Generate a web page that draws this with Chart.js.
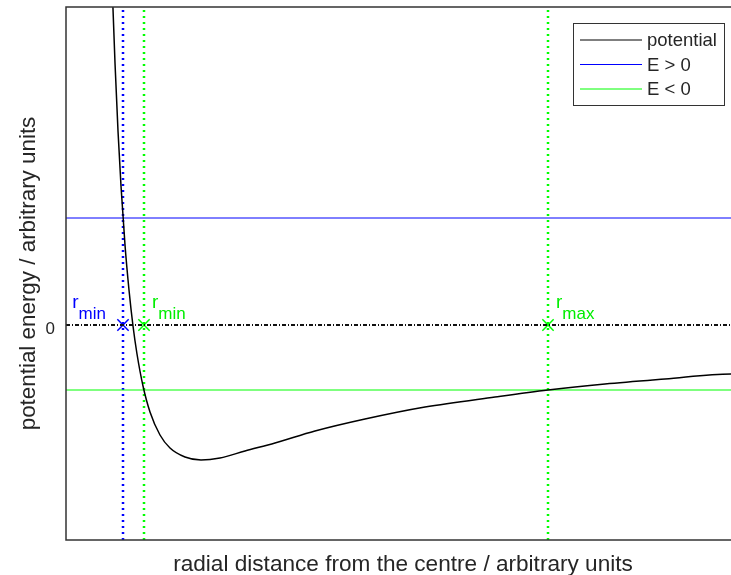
<!DOCTYPE html>
<html>
<head>
<meta charset="utf-8">
<script src="https://cdn.jsdelivr.net/npm/chart.js@4"></script>
<style>
  html, body { margin: 0; padding: 0; background: #fff; overflow: hidden; }
</style>
</head>
<body>
<canvas id="chart" width="745" height="575"></canvas>
<script>
// radial distance and effective potential
const radius = [0.46, 0.48, 0.50, 0.53, 0.56, 0.60, 0.64, 0.68, 0.72, 0.78, 0.85, 0.95, 1.05, 1.20,
  1.36, 1.55, 1.80, 2.10, 2.50, 3.00, 3.60, 4.30, 4.83, 5.40, 6.00, 6.66, 6.75];
const potential = [3.78, 3.16, 2.62, 1.94, 1.39, 0.80, 0.35, -0.01, -0.29, -0.61, -0.87, -1.10, -1.23, -1.32,
  -1.35, -1.33, -1.26, -1.18, -1.06, -0.94, -0.82, -0.72, -0.65, -0.59, -0.54, -0.49, -0.49];

const xRange = [0.01, 6.75];
const yRange = [-2.15, 3.18];

const energyLabels = ['potential', 'E > 0', 'E < 0'];
const ePositive = 1.07;
const eNegative = -0.65;

// turning points where each energy meets the potential
const turnBlue = [0.58];
const turnGreen = [0.79, 4.83];
const turnLabels = [
  { r: 0.58, main: 'r', sub: 'min', color: '#0000ff', side: 'left' },
  { r: 0.79, main: 'r', sub: 'min', color: '#00ee00', side: 'right' },
  { r: 4.83, main: 'r', sub: 'max', color: '#00ee00', side: 'right' },
];

const BLUE = '#0000ff';
const GREEN = '#00ff00';
const TEXT = '#262626';
const FONT = '"Liberation Sans", Arial, Helvetica, sans-serif';

function hLine(v) {
  return [{ x: xRange[0], y: v }, { x: xRange[1], y: v }];
}
function vLine(r) {
  return [{ x: r, y: yRange[0] }, { x: r, y: yRange[1] }];
}

const datasets = [
  {
    label: energyLabels[0],
    data: radius.map((r, i) => ({ x: r, y: potential[i] })),
    borderColor: '#000', borderWidth: 1.5, cubicInterpolationMode: 'monotone',
  },
  { label: energyLabels[1], data: hLine(ePositive), borderColor: BLUE, borderWidth: 1 },
  { label: energyLabels[2], data: hLine(eNegative), borderColor: GREEN, borderWidth: 1.2 },
  { label: 'zero', data: hLine(0), borderColor: '#111', borderWidth: 2, borderDash: [4, 2, 1, 2] },
];
turnBlue.forEach(r => datasets.push({ label: 'tb', data: vLine(r), borderColor: BLUE, borderWidth: 2.5, borderDash: [2, 4] }));
turnGreen.forEach(r => datasets.push({ label: 'tg', data: vLine(r), borderColor: GREEN, borderWidth: 2.5, borderDash: [2, 4] }));
datasets.push({
  label: 'xb', data: turnBlue.map(r => ({ x: r, y: 0 })), showLine: false,
  pointStyle: 'crossRot', pointRadius: 8, pointBorderColor: BLUE, pointBorderWidth: 1.5,
});
datasets.push({
  label: 'xg', data: turnGreen.map(r => ({ x: r, y: 0 })), showLine: false,
  pointStyle: 'crossRot', pointRadius: 8, pointBorderColor: GREEN, pointBorderWidth: 1.5,
});
datasets.forEach(d => {
  if (d.showLine === undefined) { d.showLine = true; d.pointRadius = 0; }
  d.fill = false;
});

const extras = {
  id: 'extras',
  afterDatasetsDraw(chart) {
    const { ctx, chartArea: a, scales } = chart;
    ctx.save();
    // axes box
    ctx.strokeStyle = '#333';
    ctx.lineWidth = 1.5;
    ctx.strokeRect(a.left, a.top, a.right - a.left, a.bottom - a.top);

    // turning point labels
    const y0 = scales.y.getPixelForValue(0);
    turnLabels.forEach(t => {
      const px = scales.x.getPixelForValue(t.r);
      ctx.font = '19px ' + FONT;
      const wMain = ctx.measureText(t.main).width;
      ctx.font = '17px ' + FONT;
      const wSub = ctx.measureText(t.sub).width;
      const left = t.side === 'left' ? px - 17 - wMain - wSub : px + 8;
      ctx.fillStyle = t.color;
      ctx.textBaseline = 'alphabetic';
      ctx.textAlign = 'left';
      ctx.font = '19px ' + FONT;
      ctx.fillText(t.main, left, y0 - 17);
      ctx.font = '17px ' + FONT;
      ctx.fillText(t.sub, left + wMain, y0 - 6);
    });

    // legend
    const lx = a.right - 167, ly = a.top + 16, lw = 151, lh = 82;
    ctx.fillStyle = '#fff';
    ctx.fillRect(lx, ly, lw, lh);
    ctx.strokeStyle = '#333';
    ctx.lineWidth = 1;
    ctx.strokeRect(lx + 0.5, ly + 0.5, lw, lh);
    ctx.font = '18.5px ' + FONT;
    ctx.textBaseline = 'middle';
    energyLabels.forEach((lab, i) => {
      const yy = ly + 17 + i * 24.5;
      ctx.strokeStyle = chart.data.datasets[i].borderColor;
      ctx.lineWidth = 1;
      ctx.beginPath();
      ctx.moveTo(lx + 7, yy);
      ctx.lineTo(lx + 69, yy);
      ctx.stroke();
      ctx.fillStyle = TEXT;
      ctx.fillText(lab, lx + 74, yy + 1);
    });
    ctx.restore();
  }
};

new Chart(document.getElementById('chart'), {
  type: 'scatter',
  data: { datasets },
  options: {
    responsive: false,
    animation: false,
    layout: { autoPadding: false, padding: { top: 7, right: 5, left: 0, bottom: 0 } },
    plugins: { legend: { display: false }, tooltip: { enabled: false } },
    scales: {
      x: {
        type: 'linear', min: xRange[0], max: xRange[1],
        grid: { display: false }, border: { display: false },
        ticks: { display: false },
        afterFit: s => { s.height = 35; },
        title: {
          display: true, text: 'radial distance from the centre / arbitrary units',
          color: TEXT, font: { size: 22.6, family: FONT }, padding: { top: 0, bottom: -3 },
        },
      },
      y: {
        type: 'linear', min: yRange[0], max: yRange[1],
        grid: { display: false, drawTicks: false }, border: { display: false },
        afterBuildTicks: s => { s.ticks = [{ value: 0 }]; },
        ticks: { color: TEXT, font: { size: 17, family: FONT }, padding: 11, labelOffset: 4 },
        afterFit: s => { s.width = 66; s.paddingTop = 0; s.paddingBottom = 0; },
        title: {
          display: true, text: 'potential energy / arbitrary units',
          color: TEXT, font: { size: 22.4, family: FONT }, padding: { top: 15, bottom: 0 },
        },
      },
    },
  },
  plugins: [extras],
});
</script>
</body>
</html>
